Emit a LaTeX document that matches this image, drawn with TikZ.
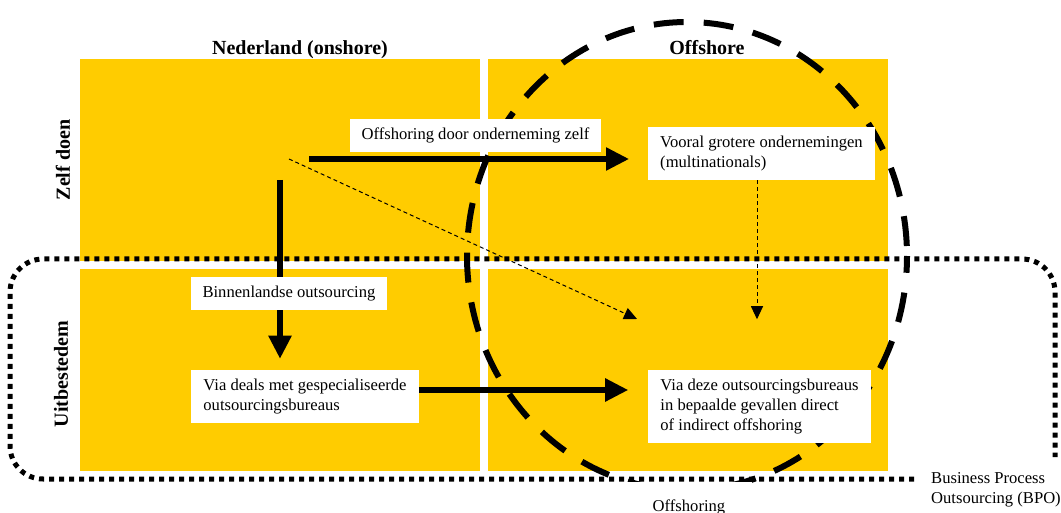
\documentclass[tikz,border=0pt]{standalone}
\usepackage{fontspec}
\setmainfont{Liberation Serif}
\usetikzlibrary{arrows.meta}
\definecolor{yelo}{RGB}{255,204,0}

\begin{document}
\begin{tikzpicture}[x=1pt,y=-1pt,
	quad/.style={rectangle,fill=yelo,minimum width=400pt,minimum height=202pt,inner sep=0pt},
	kop/.style={font=\fontsize{20}{24}\selectfont\bfseries},
	labelbox/.style={fill=white,align=left,inner xsep=12pt,inner ysep=9pt,font=\fontsize{16.6}{20}\selectfont},
	plain/.style={align=left,inner sep=0pt,font=\fontsize{16.6}{20}\selectfont},
	bigarrow/.style={line width=5.3pt,-{Triangle[length=23pt,width=22pt]}},
	thinarrow/.style={line width=1pt,dash pattern=on 4pt off 3pt,-{Triangle[length=13pt,width=12pt]}},
	bigcircle/.style={line width=6pt,dash pattern=on 30pt off 20pt,dash phase=40pt},
	bpoline/.style={line width=5pt,dash pattern=on 5pt off 5pt,rounded corners=33pt}]
	\useasboundingbox (0,0) rectangle (1061,513);
	\node[quad] (zelfnl) at (280,160) {};
	\node[quad] (zelfoff) at (688,160) {};
	\node[quad] (uitnl) at (280,370) {};
	\node[quad] (uitoff) at (688,370) {};
	\draw[bigcircle] (687,256) ellipse [x radius=220pt,y radius=234pt];
	\node[plain,anchor=base,fill=white,inner xsep=26.5pt,inner ysep=17.5pt] (offsh) at (689,511) {Offshoring};
	\draw[bpoline] (914,479) -- (10,479) -- (10,259) -- (1055,259) -- (1055,457);

	\node[kop,anchor=base] (nl) at (300,55) {Nederland (onshore)};
	\node[kop,anchor=base] (off) at (707,55) {Offshore};
	\node[kop,rotate=90] (zelf) at (63,160) {Zelf doen};
	\node[kop,rotate=90] (uit) at (61,374) {Uitbestedem};

	\node[labelbox] (offzelf) at (475.5,135.5) {Offshoring door onderneming zelf};
	\node[labelbox] (vooral) at (761.5,153.5) {Vooral grotere ondernemingen\\(multinationals)};
	\node[labelbox] (binnen) at (289,293.5) {Binnenlandse outsourcing};
	\node[labelbox] (via) at (305,396.5) {Via deals met gespecialiseerde\\outsourcingsbureaus};
	\node[labelbox] (deze) at (759.5,406.5) {Via deze outsourcingsbureaus\\in bepaalde gevallen direct\\of indirect offshoring};
	\node[plain,anchor=north west] (bpo) at (931,472) {Business Process\\Outsourcing (BPO)};

	\coordinate (bron) at (309,159);
	\coordinate (binnenstart) at (280,180);
	\coordinate (diagstart) at (289,159);
	\coordinate (diagend) at (637,319);
	\draw[bigarrow,shorten >=19pt] (bron) -- (bron -| vooral.west);
	\draw[line width=5.3pt] (binnenstart) -- (binnenstart |- binnen.north);
	\draw[bigarrow,shorten >=11pt] (binnenstart |- binnen.south) -- (binnenstart |- via.north);
	\draw[bigarrow,shorten >=20pt] ([yshift=6.5pt]via.east) -- ([yshift=6.5pt]via.east -| deze.west);
	\draw[thinarrow] (diagstart) -- (diagend);
	\draw[thinarrow] ([xshift=-4.5pt]vooral.south) -- ++(0,139);
\end{tikzpicture}
\end{document}
